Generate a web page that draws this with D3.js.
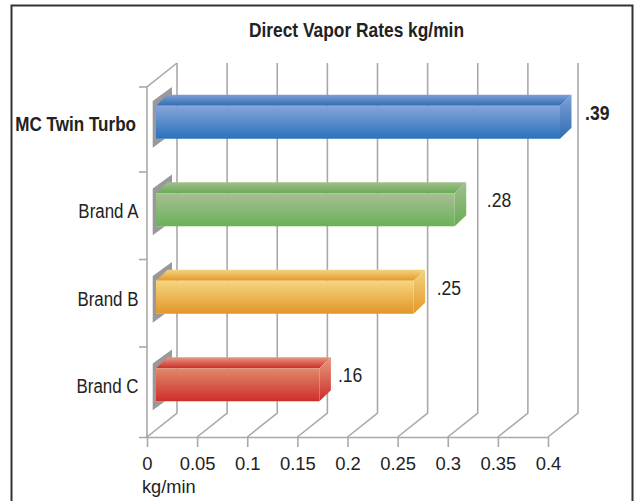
<!DOCTYPE html>
<html><head><meta charset="utf-8">
<script src="https://cdnjs.cloudflare.com/ajax/libs/d3/7.8.5/d3.min.js"></script>
<style>
html,body{margin:0;padding:0;background:#fff}
svg{display:block}
text{font-family:"Liberation Sans",sans-serif;fill:#222}
</style></head><body><svg id="c" width="637" height="501"></svg>
<script>
const categories = ["MC Twin Turbo","Brand A","Brand B","Brand C"];
const barValues = [0.403,0.298,0.257,0.163];
const valueLabels = [".39",".28",".25",".16"];
const labelAnchors = [0.428,0.330,0.280,0.1815];
const tickValues = [0,0.05,0.1,0.15,0.2,0.25,0.3,0.35,0.4];
const tickLabels = ["0","0.05","0.1","0.15","0.2","0.25","0.3","0.35","0.4"];
const paletteTop = ["#87a4da","#a7bf94","#f4d67e","#df8a6c"];
const paletteBottom = ["#2a72bb","#6bb158","#e3962a","#cf2e2a"];
const backTop = ["#7f9fd6","#a3bd8f","#f5d27f","#e59a80"];
const backBottom = ["#2f6db2","#66ad53","#e39a2b","#cc2d28"];

const svg = d3.select("#c");
const x = d3.scaleLinear().domain([0,0.4]).range([147,548]);
const y = d3.scaleBand().domain(categories).range([84.5,434.5]);
const wallTop = 87, wallBottom = 437;
const depth = {dx:30,dy:-24};
const barD = {dx:11.5,dy:-11};
const inset = 9, frontH = 33;
const grid = "#a9a9a9";

function squeeze(sel,f){
  sel.each(function(){
    const w=this.getComputedTextLength();
    this.setAttribute("textLength",w*f);
    this.setAttribute("lengthAdjust","spacingAndGlyphs");
  });
  return sel;
}

svg.append("path").attr("d","M11.5,501V5.5H632.5V501").attr("fill","none").attr("stroke","#333").attr("stroke-width",2);

squeeze(svg.append("text").attr("x",356.5).attr("y",37).attr("text-anchor","middle").attr("font-weight","bold").attr("font-size",19.5).text("Direct Vapor Rates kg/min"),0.89);

const defs = svg.append("defs");
function grad(id,a,b){const g=defs.append("linearGradient").attr("id",id).attr("x1",0).attr("x2",0).attr("y1",0).attr("y2",1);
 g.append("stop").attr("offset","0%").attr("stop-color",a);g.append("stop").attr("offset","100%").attr("stop-color",b);}
categories.forEach((c,i)=>{grad("f"+i,paletteTop[i],paletteBottom[i]);grad("t"+i,backTop[i],backBottom[i]);});

const gg = svg.append("g").attr("fill","none").attr("stroke",grid).attr("stroke-width",1.6);
tickValues.forEach(v=>{
  gg.append("path").attr("d",`M${x(v)},${wallBottom}L${x(v)+depth.dx},${wallBottom+depth.dy}V${wallTop+depth.dy}`);
});
gg.append("path").attr("d",`M${x(0)},${wallBottom}V${wallTop}L${x(0)+depth.dx},${wallTop+depth.dy}`);
const catEdges = [wallTop].concat(categories.slice(1).map(c=>y(c)));
gg.selectAll("line.ct").data(catEdges).join("line").attr("x1",x(0)-8).attr("x2",x(0)).attr("y1",d=>d).attr("y2",d=>d);

const ax = d3.axisBottom(x).tickValues(tickValues).tickFormat((d,i)=>tickLabels[i]).tickSize(10).tickSizeOuter(0);
const axg = svg.append("g").attr("transform",`translate(0,${wallBottom})`).call(ax);
axg.select(".domain").attr("stroke",grid).attr("stroke-width",1.6).attr("d",`M${x(0)-8},0.5H${x(0.4)}`);
axg.selectAll("line").attr("stroke",grid).attr("stroke-width",1.6);
axg.attr("font-family",null).attr("font-size",null);
axg.selectAll("text").attr("font-size",19).attr("y",20).attr("dy","0.71em").style("fill","#222");
squeeze(axg.selectAll("text"),0.97);

squeeze(svg.append("text").attr("x",142).attr("y",493).attr("font-size",19).text("kg/min"),0.96);

const fx0 = x(0)+inset;
const bx = v=>fx0+(x(v)-x(0));
const bars = svg.selectAll("g.bar").data(categories).join("g").attr("class","bar");
bars.each(function(c,i){
  const g=d3.select(this);
  const cy=y(c)+y.bandwidth()/2;
  const t=cy-22.5, b=t+frontH, r=bx(barValues[i]);
  g.append("path").attr("fill","#999").attr("d",`M${fx0-3.3},${t-4.7}L${fx0+16},${t-18.7}V${t-10}L${fx0},${t}V${b}H${fx0+9}L${fx0-3.3},${b+9}Z`);
  g.append("path").attr("fill",`url(#t${i})`).attr("d",`M${fx0},${t}L${fx0+barD.dx},${t+barD.dy}H${r+barD.dx}L${r},${t}Z`);
  g.append("path").attr("fill",`url(#t${i})`).attr("d",`M${r},${t}L${r+barD.dx},${t+barD.dy}V${b+barD.dy}L${r},${b}Z`);
  g.append("rect").attr("x",fx0).attr("y",t).attr("width",r-fx0).attr("height",frontH).attr("fill",`url(#f${i})`);
  squeeze(svg.append("text").attr("x",bx(labelAnchors[i])).attr("y",t+14).attr("font-size",19.5).attr("font-weight",i===0?"bold":null).text(valueLabels[i]),0.9);
  squeeze(svg.append("text").attr("x",i===0?136:138.5).attr("y",cy+2.5).attr("text-anchor","end").attr("font-size",20).attr("font-weight",i===0?"bold":null).text(c),i===0?0.853:0.845);
});
</script></body></html>
